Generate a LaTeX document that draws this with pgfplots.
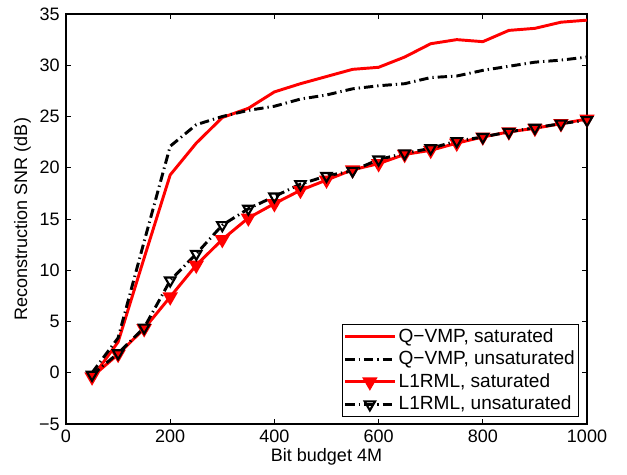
\documentclass[border=0pt]{standalone}
\usepackage{pgfplots}
\pgfplotsset{compat=1.18}
\usepackage{fontspec}
\setmainfont{Liberation Sans}
\begin{document}
\fontsize{13.5}{16}\selectfont
\begin{tikzpicture}
\begin{axis}[
  scale only axis,
  width=390.75pt, height=307.5pt,
  xmin=0, xmax=1000, ymin=-5, ymax=35,
  xtick={0,200,400,600,800,1000},
  xticklabels={0,200,400,600,800,1000},
  ytick={-5,0,5,10,15,20,25,30,35},
  yticklabels={−5,0,5,10,15,20,25,30,35},
  /pgf/number format/assume math mode=true,
  xticklabel style={font=\fontsize{13.5}{16}\selectfont},
  yticklabel style={font=\fontsize{13.5}{16}\selectfont},
  tick align=inside,
  major tick length=4pt,
  tick style={black, line width=0.6pt},
  axis line style={line width=0.8pt},
  xlabel={Bit budget 4M},
  ylabel={Reconstruction SNR (dB)},
  xlabel style={font=\fontsize{13.5}{16}\selectfont, yshift=5pt},
  ylabel style={font=\fontsize{13.5}{16}\selectfont, yshift=-3pt},
  legend style={at={(0.985,0.017)}, anchor=south east, font=\fontsize{14.3}{17}\selectfont,
    draw=black, line width=0.6pt, inner sep=1pt, row sep=0.5pt, cells={anchor=west}},
  legend image code/.code={\draw[mark repeat=2,mark phase=2,#1] plot coordinates {(0cm,0cm) (0.65cm,0cm) (1.3cm,0cm)};},
]
\addplot[red, line width=2.2pt] coordinates {
(50,-0.5) (100,3.0) (150,11.2) (200,19.3) (250,22.4) (300,24.9) (350,25.8) (400,27.4)
(450,28.2) (500,28.9) (550,29.6) (600,29.8) (650,30.8) (700,32.1) (750,32.5) (800,32.3)
(850,33.4) (900,33.6) (950,34.2) (1000,34.4)};
\addlegendentry{Q−VMP, saturated}
\addplot[black, line width=2.2pt, dash pattern=on 7pt off 3pt on 1pt off 3pt] coordinates {
(50,0) (100,3.4) (150,12.8) (200,22.1) (250,24.2) (300,25.0) (350,25.6) (400,26.0)
(450,26.7) (500,27.1) (550,27.7) (600,28.0) (650,28.2) (700,28.8) (750,28.95) (800,29.5)
(850,29.9) (900,30.3) (950,30.5) (1000,30.8)};
\addlegendentry{Q−VMP, unsaturated}
\addplot[red, line width=2.2pt, mark=triangle*, mark size=4.5pt, mark options={solid, rotate=180, fill=red}] coordinates {
(50,-0.4) (100,1.8) (150,4.3) (200,7.4) (250,10.5) (300,13.0) (350,15.1) (400,16.5)
(450,17.8) (500,18.8) (550,19.8) (600,20.4) (650,21.3) (700,21.7) (750,22.4) (800,23.0)
(850,23.5) (900,23.85) (950,24.3) (1000,24.75)};
\addlegendentry{L1RML, saturated}
\addplot[black, line width=2.2pt, dash pattern=on 7pt off 3pt on 1pt off 3pt, mark=triangle, mark size=4.5pt, mark options={solid, rotate=180, line width=1.6pt}] coordinates {
(50,-0.2) (100,1.9) (150,4.4) (200,9.0) (250,11.6) (300,14.4) (350,16.0) (400,17.2)
(450,18.4) (500,19.2) (550,19.7) (600,20.8) (650,21.4) (700,21.9) (750,22.6) (800,23.0)
(850,23.5) (900,23.9) (950,24.3) (1000,24.65)};
\addlegendentry{L1RML, unsaturated}
\end{axis}
\pgfresetboundingbox
\path ([xshift=-49.5pt, yshift=-37.5pt]current axis.south west) rectangle ([xshift=30pt, yshift=10.5pt]current axis.north east);
\end{tikzpicture}
\end{document}
